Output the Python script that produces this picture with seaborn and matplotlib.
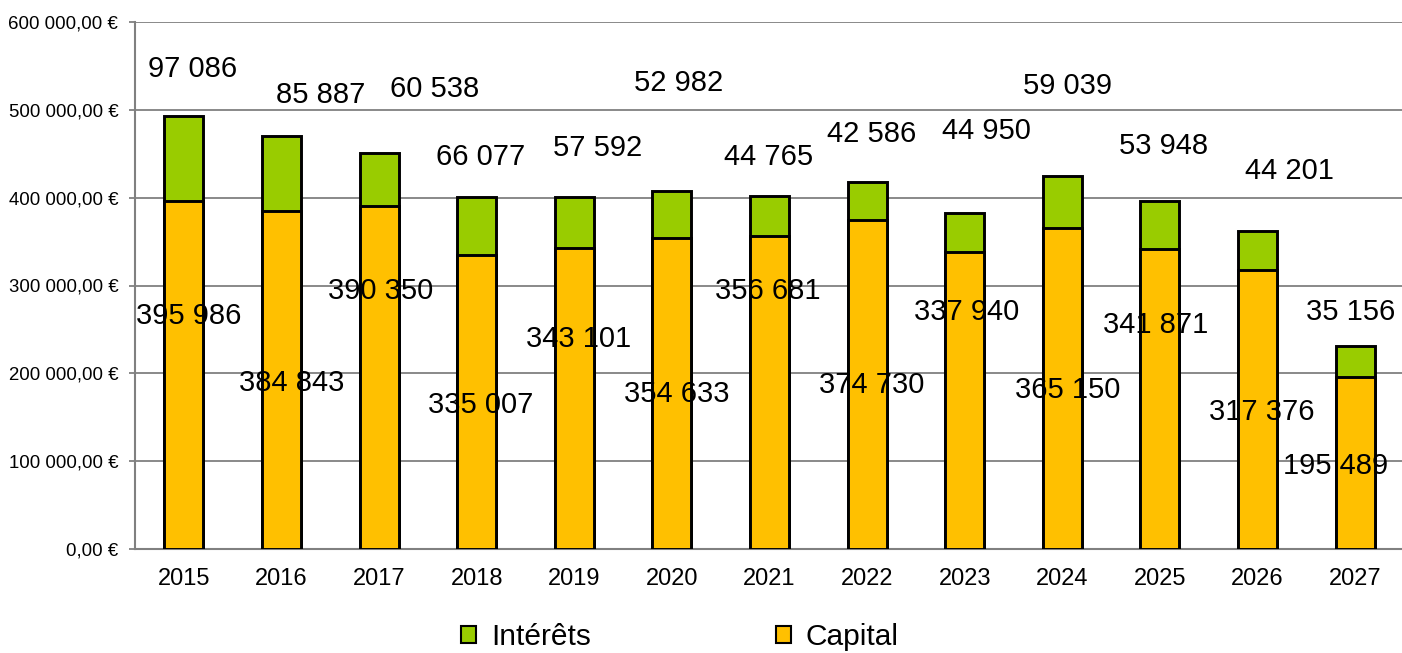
import numpy as np
import pandas as pd
import matplotlib
matplotlib.use("Agg")
import matplotlib.pyplot as plt
from matplotlib.patches import Patch
from matplotlib.ticker import FuncFormatter
import seaborn as sns

# ---- data ----
years = ["2015", "2016", "2017", "2018", "2019", "2020", "2021",
         "2022", "2023", "2024", "2025", "2026", "2027"]
capital = [395986, 384843, 390350, 335007, 343101, 354633, 356681,
           374730, 337940, 365150, 341871, 317376, 195489]
interets = [97086, 85887, 60538, 66077, 57592, 52982, 44765,
            42586, 44950, 59039, 53948, 44201, 35156]

# label placements (offset in category units, y in data units), as in the original
int_lab_dx = [0.09, 0.40, 0.57, 0.04, 0.24, 0.07, -0.01, 0.05, 0.22, 0.05, 0.04, 0.33, -0.05]
int_lab_y = [546700, 517100, 523900, 446500, 456700, 530800, 446500,
             472700, 476100, 527400, 459000, 430500, 269900]
cap_lab_dx = [0.05, 0.11, 0.02, 0.04, 0.04, 0.05, -0.02, 0.05, 0.02, 0.05, -0.04, 0.04, -0.20]
cap_lab_y = [265400, 189100, 293900, 164000, 239200, 176500, 293900,
             186800, 269900, 181100, 255100, 156000, 94500]

GREEN = "#99CC00"
ORANGE = "#FFC000"
GRID = "#808080"

sns.set_style("white")
plt.rcParams["font.family"] = ["Liberation Sans", "DejaVu Sans"]
plt.rcParams["text.color"] = "black"
plt.rcParams["xtick.color"] = "black"
plt.rcParams["ytick.color"] = "black"

df = pd.DataFrame({"annee": years, "capital": capital, "interets": interets})
df["total"] = df["capital"] + df["interets"]

fig = plt.figure(figsize=(14.02, 6.53), dpi=100)
ax = fig.add_axes([135 / 1402, 1 - 549 / 653, 1269 / 1402, 527 / 653])

sns.barplot(data=df, x="annee", y="total", color=GREEN, saturation=1,
            edgecolor="black", linewidth=2.1, width=0.4, ax=ax, zorder=3)
sns.barplot(data=df, x="annee", y="capital", color=ORANGE, saturation=1,
            edgecolor="black", linewidth=2.1, width=0.4, ax=ax, zorder=3)

def fmt_int(v):
    return f"{v:,}".replace(",", " ")

for i in range(len(years)):
    ax.text(i + int_lab_dx[i], int_lab_y[i], fmt_int(interets[i]),
            ha="center", va="center", fontsize=21, color="black", zorder=5)
    ax.text(i + cap_lab_dx[i], cap_lab_y[i], fmt_int(capital[i]),
            ha="center", va="center", fontsize=21, color="black", zorder=5)

ax.set_xlim(-0.5, len(years) - 0.5)
ax.set_ylim(0, 600000)
ax.set_yticks(np.arange(0, 600001, 100000))

def yfmt(v, pos):
    s = f"{v:,.2f}"
    s = s.replace(",", " ").replace(".", ",")
    return s + " €"

ax.yaxis.set_major_formatter(FuncFormatter(yfmt))
ax.set_xlabel("")
ax.set_ylabel("")

ax.set_axisbelow(True)
ax.yaxis.grid(True, color=GRID, linewidth=1.3)
ax.xaxis.grid(False)

for s in ["top", "right"]:
    ax.spines[s].set_visible(False)
for s in ["left", "bottom"]:
    ax.spines[s].set_color(GRID)
    ax.spines[s].set_linewidth(1.5)

ax.set_xticks(np.arange(-0.5, len(years), 1.0), minor=True)
ax.tick_params(axis="x", which="major", length=0, pad=14, labelsize=17,
               labelcolor="black")
ax.tick_params(axis="x", which="minor", length=5, width=1.3, color=GRID, direction="out")
ax.tick_params(axis="y", which="major", length=4, width=1.3, color=GRID,
               direction="out", pad=8, labelsize=13.4, left=True, labelcolor="black")

handles = [Patch(facecolor=GREEN, edgecolor="black", linewidth=1.5),
           Patch(facecolor=ORANGE, edgecolor="black", linewidth=1.5)]
leg = fig.legend(handles, ["Intérêts", "Capital"], loc="center",
                 bbox_to_anchor=(0.485, 0.025), ncol=2, frameon=False, fontsize=21.5,
                 handlelength=0.5, handleheight=0.5, handletextpad=0.5,
                 columnspacing=6.2)
for t in leg.get_texts():
    t.set_color("black")

fig.savefig("out.png", dpi=100)
